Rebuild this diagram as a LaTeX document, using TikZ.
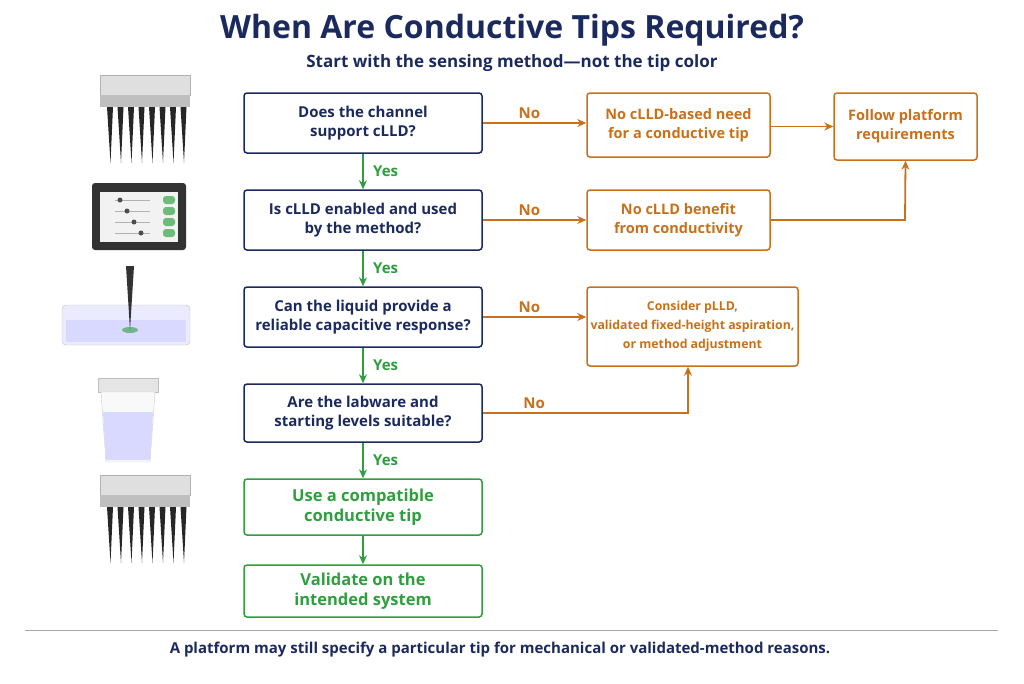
\documentclass[tikz,border=0pt]{standalone}
\usepackage{fontspec}
\setmainfont{Open Sans}
\usetikzlibrary{arrows.meta}
\definecolor{navy}{HTML}{1B2A5E}
\definecolor{org}{HTML}{C8701A}
\definecolor{grn}{HTML}{2E9E3E}
\begin{document}
\begin{tikzpicture}[x=1pt,y=-1pt,
 q/.style={draw=navy,line width=1.5pt,rounded corners=3pt,text=navy,align=center,font=\bfseries\fontsize{15}{19}\selectfont,minimum width=238pt,minimum height=60pt},
 g/.style={q,draw=grn,text=grn,font=\bfseries\fontsize{16.5}{20}\selectfont},
 o/.style={draw=org,line width=1.5pt,rounded corners=3pt,text=org,align=center,font=\bfseries\fontsize{14.5}{19}\selectfont,minimum height=62pt},
 oa/.style={draw=org,line width=1.8pt,-{Stealth[length=9pt,width=8pt]}},
 ga/.style={draw=grn,line width=1.8pt,-{Stealth[length=9pt,width=8pt]}},
 nl/.style={text=org,font=\bfseries\fontsize{15}{17}\selectfont},
 yl/.style={text=grn,font=\bfseries\fontsize{15}{17}\selectfont}]
\useasboundingbox (0,0) rectangle (1024,683);
\node[text=navy,font=\bfseries\fontsize{32}{36}\selectfont] (title) at (512,30) {When Are Conductive Tips Required?};
\node[text=navy,font=\bfseries\fontsize{17}{20}\selectfont] (sub) at (512,63) {Start with the sensing method—not the tip color};
\node[q] (q1) at (363,123) {Does the channel\\support cLLD?};
\node[q] (q2) at (363,220) {Is cLLD enabled and used\\by the method?};
\node[q] (q3) at (363,317) {Can the liquid provide a\\reliable capacitive response?};
\node[q,minimum height=58pt] (q4) at (363,413) {Are the labware and\\starting levels suitable?};
\node[g,minimum height=56pt] (g1) at (363,507) {Use a compatible\\conductive tip};
\node[g,minimum height=52pt] (g2) at (363,591) {Validate on the\\intended system};
\node[o,minimum width=183pt,minimum height=64pt] (o1) at (678.5,125) {No cLLD-based need\\for a conductive tip};
\node[o,minimum width=183pt,minimum height=60pt] (o2) at (678.5,220) {No cLLD benefit\\from conductivity};
\node[o,minimum width=211pt,minimum height=79pt,inner xsep=2pt,font=\bfseries\fontsize{12.3}{19}\selectfont] (o3) at (692.5,326.5) {Consider pLLD,\\validated fixed-height aspiration,\\or method adjustment};
\node[o,minimum width=143pt,minimum height=67pt,font=\bfseries\fontsize{14.5}{19}\selectfont] (o4) at (905.5,126.5) {Follow platform\\requirements};
\draw[oa] (q1.east) -- (o1.west|-q1.east) node[nl,pos=0.45,above] {No};
\draw[oa] (q2.east) -- (o2.west|-q2.east) node[nl,pos=0.45,above] {No};
\draw[oa] (q3.east) -- (o3.west|-q3.east) node[nl,pos=0.45,above] {No};
\coordinate (c4) at (688,413);
\draw[oa] (q4.east) -- (c4) node[nl,pos=0.25,above] {No} -- (o3.south-|c4);
\draw[oa] (o1.east|-o4.west) -- (o4.west);
\coordinate (c2) at (905,220);
\draw[oa] (o2.east) -- (c2) -- (o4.south);
\draw[ga] (q1) -- (q2) node[yl,midway,right=6pt] {Yes};
\draw[ga] (q2) -- (q3) node[yl,midway,right=6pt] {Yes};
\draw[ga] (q3) -- (q4) node[yl,midway,right=6pt] {Yes};
\draw[ga] (q4) -- (g1) node[yl,midway,right=6pt] {Yes};
\draw[ga] (g1) -- (g2);
\draw[gray!70,line width=0.8pt] (25,630) -- (998,630);
\node[text=navy,font=\bfseries\fontsize{15}{18}\selectfont] (foot) at (500,650) {A platform may still specify a particular tip for mechanical or validated-method reasons.};
% icons
\foreach \yy in {75,475}{
 \fill[gray!25,draw=gray!60] (100,\yy) rectangle (190,\yy+20);
 \fill[gray!50] (100,\yy+20) rectangle (190,\yy+32);
 \foreach \i in {0,...,7}{\fill[black!85] (107+\i*10.5,\yy+32) -- (113+\i*10.5,\yy+32) -- (110.5+\i*10.5,\yy+88) -- cycle;}
}
\fill[black!80,rounded corners=3pt] (92,183) rectangle (186,250);
\fill[gray!10] (100,192) rectangle (178,242);
\foreach \r in {0,1,2,3}{
 \draw[gray!60,line width=1pt] (115,200+\r*11) -- (150,200+\r*11);
 \fill[black!70] (120+\r*7,200+\r*11) circle (2.5);
 \fill[grn!70,rounded corners=3pt] (163,196+\r*11) rectangle (175,204+\r*11);}
\fill[blue!8,draw=gray!50,rounded corners=4pt] (62,305) rectangle (190,345);
\fill[blue!15] (66,320) rectangle (186,342);
\fill[grn,opacity=0.6] (130,330) ellipse (8 and 3);
\fill[black!80] (126,266) -- (134,266) -- (130,330) -- cycle;
\fill[gray!20,draw=gray!50] (98,378) rectangle (158,392);
\fill[gray!5,draw=gray!40] (101,392) -- (155,392) -- (150,462) -- (106,462) -- cycle;
\fill[blue!15] (103,412) -- (153,412) -- (150,460) -- (106,460) -- cycle;
\end{tikzpicture}
\end{document}
